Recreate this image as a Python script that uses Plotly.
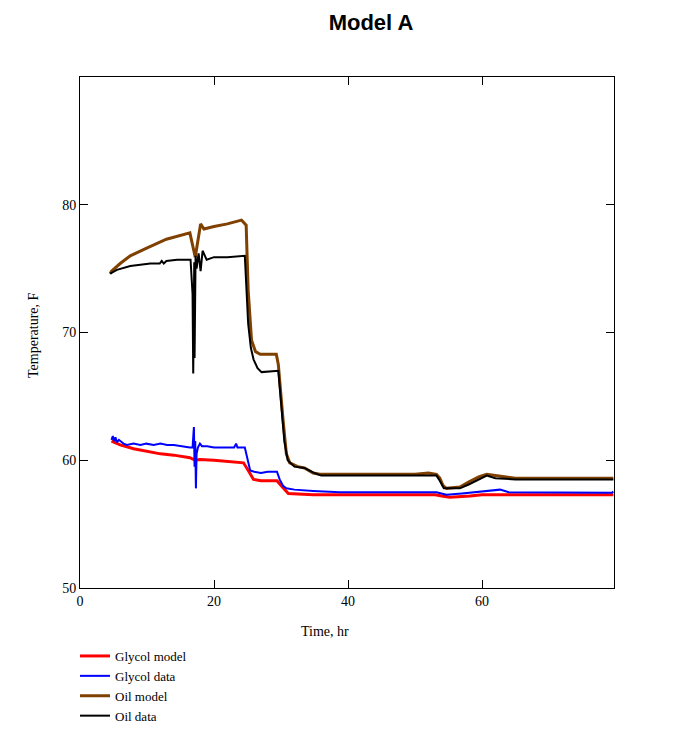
import plotly.graph_objects as go

# ---- data ----
oil_model_t = [4.5, 4.7, 6.0, 7.5, 9.95, 12.9, 16.4, 17.2, 18.0, 18.5, 20.0, 22.0, 24.1, 24.8,
               25.1, 25.6, 26.2, 26.9, 29.3, 29.6, 30.3, 30.8, 31.3, 32.5, 33.5, 34.8, 35.8,
               45.0, 50.0, 52.0, 53.2, 53.7, 54.2, 54.7, 56.7, 58.0, 59.5, 60.7, 62.0, 63.1, 65.0, 79.6]
oil_model_T = [74.6, 74.8, 75.4, 76.0, 76.6, 77.3, 77.8, 75.9, 78.5, 78.1, 78.3, 78.5, 78.8, 78.4,
               73.3, 69.4, 68.5, 68.3, 68.3, 67.5, 63.2, 60.5, 59.8, 59.5, 59.4, 59.0, 58.9,
               58.9, 58.9, 59.0, 58.9, 58.6, 58.0, 57.8, 57.9, 58.3, 58.7, 58.9, 58.8, 58.7, 58.6, 58.6]

oil_data_t = [4.5, 5.5, 7.5, 9.0, 10.5, 11.9, 12.2, 12.5, 12.9, 14.5, 16.5, 16.8, 16.9, 17.05,
              17.1, 17.25, 17.4, 17.7, 18.0, 18.3, 18.9, 20.0, 22.0, 24.6, 25.1, 25.5, 25.9,
              26.5, 27.1, 29.6, 30.0, 30.5, 31.0, 32.0, 33.5, 35.0, 36.0, 53.2, 53.7, 54.3,
              56.7, 58.0, 60.7, 62.0, 65.0, 79.6]
oil_data_T = [74.6, 74.9, 75.2, 75.3, 75.4, 75.4, 75.6, 75.4, 75.6, 75.7, 75.7, 73.0, 66.8, 75.5,
              68.0, 76.0, 75.0, 76.2, 74.8, 76.4, 75.7, 75.9, 75.9, 76.0, 70.7, 68.8, 67.9,
              67.2, 66.9, 67.0, 64.5, 61.5, 60.0, 59.5, 59.4, 59.0, 58.8, 58.8, 58.4, 57.8,
              57.8, 58.1, 58.8, 58.6, 58.5, 58.5]

gly_data_t = [4.7, 4.9, 5.1, 5.3, 5.5, 5.8, 6.5, 7.0, 8.0, 9.0, 9.9, 11.0, 12.0, 13.0, 14.0,
              15.0, 16.4, 16.8, 17.0, 17.1, 17.2, 17.3, 17.4, 17.6, 17.9, 18.2, 19.0, 20.0,
              21.0, 22.0, 23.0, 23.3, 23.5, 24.6, 25.0, 25.4, 26.0, 27.0, 28.0, 29.4, 29.8,
              30.3, 30.8, 32.0, 34.8, 38.8, 53.2, 54.0, 54.7, 57.0, 59.0, 61.0, 62.0, 62.7,
              64.0, 79.4, 79.6]
gly_data_T = [61.6, 61.9, 61.5, 61.8, 61.4, 61.6, 61.3, 61.2, 61.3, 61.2, 61.3, 61.2, 61.3, 61.2, 61.2,
              61.1, 61.0, 61.0, 62.6, 59.5, 61.5, 57.8, 60.5, 61.0, 61.3, 61.1, 61.1, 61.0,
              61.0, 61.0, 61.0, 61.3, 61.0, 61.0, 60.0, 59.2, 59.1, 59.0, 59.1, 59.1, 58.5,
              58.0, 57.8, 57.7, 57.6, 57.5, 57.5, 57.4, 57.3, 57.4, 57.5, 57.6, 57.7, 57.7,
              57.5, 57.45, 57.55]

gly_model_t = [4.7, 6.0, 8.0, 9.95, 12.0, 14.0, 16.4, 17.2, 17.9, 20.0, 22.0, 24.4, 25.0, 25.6,
               25.9, 27.0, 29.4, 30.2, 31.1, 34.8, 53.0, 54.0, 55.2, 58.2, 60.0, 79.6]
gly_model_T = [61.5, 61.2, 60.9, 60.7, 60.5, 60.4, 60.2, 60.0, 60.05, 60.0, 59.9, 59.8, 59.3, 58.7,
               58.5, 58.4, 58.4, 57.9, 57.4, 57.3, 57.3, 57.2, 57.1, 57.2, 57.3, 57.3]

x_ticks = [0, 20, 40, 60]
y_ticks = [50, 60, 70, 80]

serif = "Liberation Serif, Times New Roman, serif"

fig = go.Figure()
fig.add_trace(go.Scatter(x=gly_model_t, y=gly_model_T, mode="lines", name="Glycol model",
                         line=dict(color="#ff0000", width=3)))
fig.add_trace(go.Scatter(x=gly_data_t, y=gly_data_T, mode="lines", name="Glycol data",
                         line=dict(color="#0000ff", width=2)))
fig.add_trace(go.Scatter(x=oil_model_t, y=oil_model_T, mode="lines", name="Oil model",
                         line=dict(color="#804000", width=3)))
fig.add_trace(go.Scatter(x=oil_data_t, y=oil_data_T, mode="lines", name="Oil data",
                         line=dict(color="#000000", width=2)))

axis_common = dict(showgrid=False, zeroline=False, showline=True, linecolor="black",
                   linewidth=1, mirror="ticks", ticks="inside", ticklen=8,
                   tickcolor="black", tickfont=dict(family=serif, size=14, color="black"))

fig.update_layout(
    width=696, height=756,
    paper_bgcolor="white", plot_bgcolor="white",
    margin=dict(l=80, r=82, t=77, b=168),
    title=dict(text="<b>Model A</b>", x=371/696, xanchor="center", y=1-22/756, yanchor="middle",
               font=dict(family="Liberation Sans, Arial, sans-serif", size=22, color="black")),
    xaxis=dict(range=[0, 79.7], tickvals=x_ticks, **axis_common),
    yaxis=dict(range=[50, 90], tickvals=y_ticks, **axis_common),
    showlegend=True,
    legend=dict(x=-5/534, xanchor="left", y=-53/511, yanchor="top",
                font=dict(family=serif, size=13, color="black"),
                bgcolor="rgba(0,0,0,0)", tracegroupgap=0, itemwidth=30),
    annotations=[
        dict(text="Time, hr", xref="paper", yref="paper", x=(325-80)/534, y=-(631-588)/511,
             xanchor="center", yanchor="middle", showarrow=False,
             font=dict(family=serif, size=14, color="black")),
        dict(text="Temperature, F", xref="paper", yref="paper", x=-(80-33)/534, y=(588-335)/511,
             xanchor="center", yanchor="middle", showarrow=False, textangle=-90,
             font=dict(family=serif, size=14, color="black")),
    ],
)

fig.write_html("out.html")
